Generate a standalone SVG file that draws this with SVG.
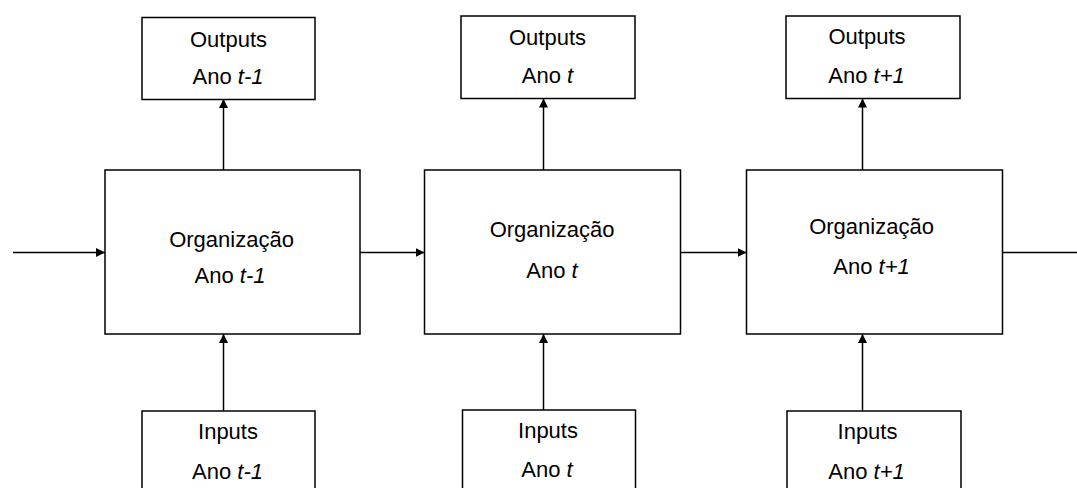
<svg xmlns="http://www.w3.org/2000/svg" width="1077" height="488" viewBox="0 0 1077 488">
  <style>
    .box { fill: #fff; stroke: #000; stroke-width: 1.5; }
    .lbl { font-family: "Liberation Sans", Arial, sans-serif; font-size: 22px; fill: #000; text-anchor: middle; }
    .it { font-style: italic; }
    .wire { stroke: #000; stroke-width: 1.5; fill: none; }
  </style>
  <defs>
    <marker id="arrow" viewBox="0 0 10 10" refX="10" refY="5" markerWidth="6" markerHeight="6" orient="auto" markerUnits="strokeWidth">
      <path d="M0,0 L10,5 L0,10 z" fill="#000"/>
    </marker>
  </defs>

  <rect width="1077" height="488" fill="#fff"/>

  <!-- connectors -->
  <g id="connectors">
    <line class="wire" x1="13" y1="252.5" x2="105" y2="252.5" marker-end="url(#arrow)"/>
    <line class="wire" x1="360" y1="252.5" x2="424.5" y2="252.5" marker-end="url(#arrow)"/>
    <line class="wire" x1="680" y1="252.5" x2="746.5" y2="252.5" marker-end="url(#arrow)"/>
    <line class="wire" x1="1002" y1="252.5" x2="1077" y2="252.5"/>

    <line class="wire" x1="223.5" y1="170" x2="223.5" y2="99" marker-end="url(#arrow)"/>
    <line class="wire" x1="543.5" y1="170" x2="543.5" y2="98.5" marker-end="url(#arrow)"/>
    <line class="wire" x1="862.5" y1="170" x2="862.5" y2="98.5" marker-end="url(#arrow)"/>

    <line class="wire" x1="223.5" y1="411" x2="223.5" y2="334" marker-end="url(#arrow)"/>
    <line class="wire" x1="543.5" y1="410" x2="543.5" y2="334" marker-end="url(#arrow)"/>
    <line class="wire" x1="862.5" y1="411" x2="862.5" y2="334" marker-end="url(#arrow)"/>
  </g>

  <!-- year t-1 -->
  <g id="out-t-1">
    <rect class="box" x="142" y="17.5" width="173" height="82"/>
    <text class="lbl" x="228.5" y="46.5">Outputs</text>
    <text class="lbl" x="228" y="83.5">Ano <tspan class="it">t-1</tspan></text>
  </g>
  <g id="org-t-1">
    <rect class="box" x="105" y="170" width="255" height="164"/>
    <text class="lbl" x="231.5" y="246.5">Organização</text>
    <text class="lbl" x="230" y="283">Ano <tspan class="it">t-1</tspan></text>
  </g>
  <g id="in-t-1">
    <rect class="box" x="142" y="411" width="173" height="90"/>
    <text class="lbl" x="228" y="438.5">Inputs</text>
    <text class="lbl" x="227.5" y="478.5">Ano <tspan class="it">t-1</tspan></text>
  </g>

  <!-- year t -->
  <g id="out-t">
    <rect class="box" x="461" y="16" width="174" height="82.5"/>
    <text class="lbl" x="547.5" y="44.5">Outputs</text>
    <text class="lbl" x="547.5" y="83">Ano <tspan class="it">t</tspan></text>
  </g>
  <g id="org-t">
    <rect class="box" x="424.5" y="170" width="256" height="164"/>
    <text class="lbl" x="552" y="237">Organização</text>
    <text class="lbl" x="552" y="277.5">Ano <tspan class="it">t</tspan></text>
  </g>
  <g id="in-t">
    <rect class="box" x="462.5" y="410" width="173" height="90"/>
    <text class="lbl" x="548" y="437.5">Inputs</text>
    <text class="lbl" x="547" y="477">Ano <tspan class="it">t</tspan></text>
  </g>

  <!-- year t+1 -->
  <g id="out-t1">
    <rect class="box" x="786" y="16" width="174" height="82.5"/>
    <text class="lbl" x="867" y="43.5">Outputs</text>
    <text class="lbl" x="866.5" y="82.5">Ano <tspan class="it">t+1</tspan></text>
  </g>
  <g id="org-t1">
    <rect class="box" x="746.5" y="170" width="256" height="164"/>
    <text class="lbl" x="871.5" y="233.5">Organização</text>
    <text class="lbl" x="871.5" y="274">Ano <tspan class="it">t+1</tspan></text>
  </g>
  <g id="in-t1">
    <rect class="box" x="787" y="411" width="174" height="90"/>
    <text class="lbl" x="867.5" y="438.5">Inputs</text>
    <text class="lbl" x="866.5" y="478.5">Ano <tspan class="it">t+1</tspan></text>
  </g>
</svg>
